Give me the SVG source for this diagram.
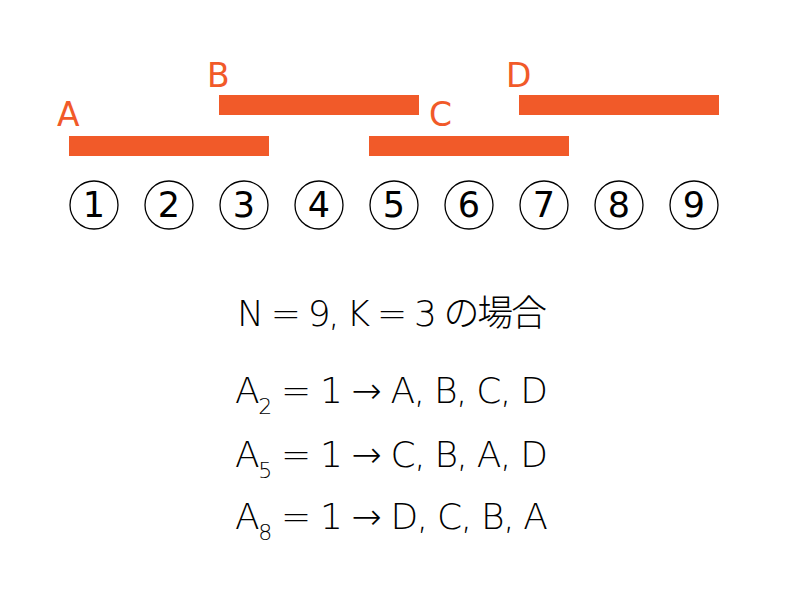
<svg xmlns="http://www.w3.org/2000/svg" width="800" height="600" viewBox="0 0 800 600">
<style>
.bar{fill:#F15A29}
.lbl{font-family:"DejaVu Sans","Noto Sans",sans-serif;font-size:33px;fill:#F15A29}
.circ{fill:#fff;stroke:#000;stroke-width:1.3}
.num{font-family:"DejaVu Sans","Noto Sans",sans-serif;font-size:35px;fill:#000;text-anchor:middle}
.eq{font-family:"DejaVu Sans","Noto Sans CJK JP",sans-serif;font-weight:200;font-size:36px;fill:#000}
.jp{font-family:"Noto Sans CJK JP",sans-serif;font-weight:300}
.sub{font-size:22px}
</style>
<rect width="800" height="600" fill="#fff"/>
<g id="intervals">
<g id="A"><rect class="bar" x="69" y="136" width="200" height="20"/><text class="lbl" x="57" y="126">A</text></g>
<g id="B"><rect class="bar" x="219" y="95" width="200" height="20"/><text class="lbl" x="207" y="87">B</text></g>
<g id="C"><rect class="bar" x="369" y="136" width="200" height="20"/><text class="lbl" x="429" y="126">C</text></g>
<g id="D"><rect class="bar" x="519" y="95" width="200" height="20"/><text class="lbl" x="506" y="87">D</text></g>
</g>
<g id="positions">
<g id="p1"><circle class="circ" cx="94" cy="205" r="24"/><text class="num" x="94" y="217">1</text></g>
<g id="p2"><circle class="circ" cx="169" cy="205" r="24"/><text class="num" x="169" y="217">2</text></g>
<g id="p3"><circle class="circ" cx="244" cy="205" r="24"/><text class="num" x="244" y="217">3</text></g>
<g id="p4"><circle class="circ" cx="319" cy="205" r="24"/><text class="num" x="319" y="217">4</text></g>
<g id="p5"><circle class="circ" cx="394" cy="205" r="24"/><text class="num" x="394" y="217">5</text></g>
<g id="p6"><circle class="circ" cx="469" cy="205" r="24"/><text class="num" x="469" y="217">6</text></g>
<g id="p7"><circle class="circ" cx="544" cy="205" r="24"/><text class="num" x="544" y="217">7</text></g>
<g id="p8"><circle class="circ" cx="619" cy="205" r="24"/><text class="num" x="619" y="217">8</text></g>
<g id="p9"><circle class="circ" cx="694" cy="205" r="24"/><text class="num" x="694" y="217">9</text></g>
</g>
<g id="text">
<text class="eq" x="237" y="326" textLength="310" lengthAdjust="spacing">N = 9, K = 3 <tspan class="jp">の場合</tspan></text>
<text class="eq" x="235" y="403" textLength="313" lengthAdjust="spacing">A<tspan class="sub" dy="11">2</tspan><tspan dy="-11"> = 1 → A, B, C, D</tspan></text>
<text class="eq" x="235" y="467" textLength="313" lengthAdjust="spacing">A<tspan class="sub" dy="11">5</tspan><tspan dy="-11"> = 1 → C, B, A, D</tspan></text>
<text class="eq" x="235" y="529" textLength="313" lengthAdjust="spacing">A<tspan class="sub" dy="11">8</tspan><tspan dy="-11"> = 1 → D, C, B, A</tspan></text>
</g>
</svg>
